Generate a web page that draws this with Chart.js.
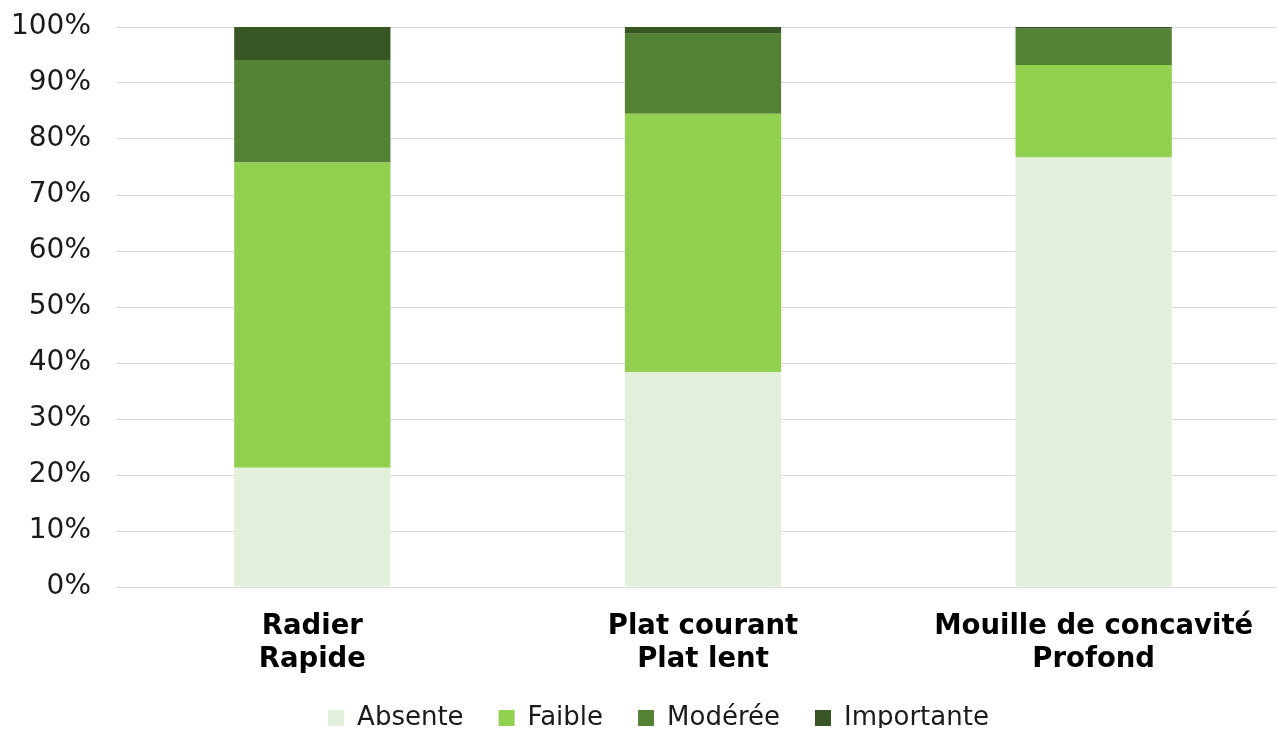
<!DOCTYPE html>
<html>
<head>
<meta charset="utf-8">
<script src="https://cdn.jsdelivr.net/npm/chart.js@4"></script>
<style>
  html, body { margin: 0; padding: 0; background: #fff; overflow: hidden; }
  #wrap { position: relative; width: 1318px; height: 731px; }
</style>
</head>
<body>
<div id="wrap"><canvas id="c"></canvas></div>
<script>
const categories = [["Radier", "Rapide"], ["Plat courant", "Plat lent"], ["Mouille de concavité", "Profond"]];
const absente    = [21.3, 38.4, 76.7];
const faible     = [54.5, 46.1, 16.5];
const moderee    = [18.3, 14.3, 6.5];
const importante = [5.9, 1.2, 0.3];
const seriesNames = ["Absente", "Faible", "Modérée", "Importante"];
const seriesColors = ["#e2efda", "#92d050", "#548235", "#375623"];
const yTicks = [0, 10, 20, 30, 40, 50, 60, 70, 80, 90, 100];

const values = [absente, faible, moderee, importante];
const datasets = seriesNames.map((name, i) => ({
  label: name,
  data: values[i],
  backgroundColor: seriesColors[i],
  borderWidth: 0,
  categoryPercentage: 1.0,
  barPercentage: 0.4
}));

// Keep the legend compact vertically while keeping wide gaps between items
const legendFit = {
  id: 'legendFit',
  afterInit(chart) {
    const lg = chart.legend;
    if (!lg) return;
    const orig = lg.fit.bind(lg);
    lg.fit = function () { orig(); this.height = 58; };
  },
  afterLayout(chart) {
    const lg = chart.legend;
    if (!lg) return;
    lg.top -= 3; lg.bottom -= 3;
    lg.left += 14; lg.right += 14;
  }
};

new Chart(document.getElementById('c'), {
  type: 'bar',
  data: { labels: categories, datasets: datasets },
  plugins: [legendFit],
  options: {
    responsive: true,
    maintainAspectRatio: false,
    animation: false,
    layout: { padding: { top: 0, right: 29, left: 0, bottom: 0 } },
    plugins: {
      tooltip: { enabled: false },
      legend: {
        position: 'bottom',
        labels: {
          boxWidth: 16,
          boxHeight: 16,
          padding: 35,
          color: '#1a1a1a',
          font: { family: 'DejaVu Sans', size: 26 }
        }
      }
    },
    scales: {
      x: {
        stacked: true,
        afterFit: (s) => { s.height = 86; },
        grid: { display: false, drawTicks: false },
        border: { display: false },
        ticks: {
          padding: 23,
          color: '#000',
          maxRotation: 0,
          autoSkip: false,
          font: { family: 'DejaVu Sans', size: 27.5, weight: 'bold', lineHeight: 1.2 }
        }
      },
      y: {
        stacked: true,
        min: 0,
        max: 100,
        afterBuildTicks: (s) => { s.ticks = yTicks.map(v => ({ value: v })); },
        afterFit: (s) => { s.width = 117; s.paddingTop = 27; s.paddingBottom = 0; },
        grid: { color: '#d9d9d9', lineWidth: 1, drawTicks: false },
        border: { display: false },
        ticks: {
          padding: 26,
          color: '#1a1a1a',
          font: { family: 'DejaVu Sans', size: 28 },
          callback: (v) => v + '%'
        }
      }
    }
  }
});
</script>
</body>
</html>
